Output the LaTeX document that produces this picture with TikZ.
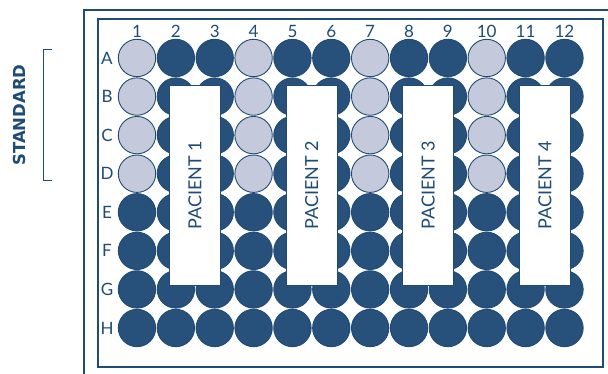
\documentclass[tikz,border=0pt]{standalone}
\usepackage{fontspec}
\setmainfont{Lato}
\newfontfamily\stdfont{DejaVu Sans}
\usepackage{xcolor}
\usetikzlibrary{positioning}

\definecolor{plateblue}{HTML}{1F4B74}
\definecolor{welldark}{HTML}{27517A}
\definecolor{welllight}{HTML}{C4CADB}

\begin{document}
\begin{tikzpicture}[x=1pt, y=-1pt,
  well/.style={circle, draw=plateblue, line width=0.9pt, fill=welldark,
    minimum size=37.4pt, inner sep=0pt},
  stdwell/.style={well, fill=welllight},
  patient/.style={rectangle, draw=plateblue, line width=0.9pt, fill=white,
    minimum width=51pt, minimum height=200pt, inner sep=0pt},
  lbl/.style={font=\fontsize{17}{17}\selectfont, text=plateblue, inner sep=0pt},
  ptxt/.style={font=\fontsize{18}{18}\selectfont, text=plateblue, rotate=90, inner sep=0pt},
  frame/.style={draw=plateblue, line width=1.3pt},
]
  \useasboundingbox (0,0) rectangle (608,374);

  % plate outline
  \coordinate (ob) at (84,380);
  \coordinate (ot) at (84,10);
  \coordinate (or) at (612,10);
  \draw[frame] (ob) -- (ot) -- (or);
  \coordinate (ia) at (98,19);
  \coordinate (ib) at (603,367);
  \draw[frame, line width=1.1pt] (ia) rectangle (ib);

  % column numbers and row letters
  \foreach \c in {1,...,12}
    \node[lbl] (col-\c) at ({137+38.86*(\c-1)},31) {\c};
  \foreach \r [count=\i] in {A,B,C,D,E,F,G,H}
    \node[lbl] (row-\r) at (107,{58+38.57*(\i-1)}) {\r};

  % wells
  \foreach \r [count=\i] in {A,B,C,D,E,F,G,H}
    \foreach \c in {1,...,12} {
      \pgfmathtruncatemacro{\isstd}{(\i<5) && (mod(\c-1,3)==0)}
      \ifnum\isstd=1
        \node[stdwell] (w-\r-\c) at ({137+38.86*(\c-1)},{58+38.57*(\i-1)}) {};
      \else
        \node[well] (w-\r-\c) at ({137+38.86*(\c-1)},{58+38.57*(\i-1)}) {};
      \fi
    }

  % patient strips
  \foreach \p in {1,...,4}
    \node[patient] (pac-\p) at ({195+116.6*(\p-1)},185) {};
  \node[ptxt] at (pac-1) {PACIENT 1};
  \node[ptxt] at (pac-2) {PACIENT 2};
  \node[ptxt] at (pac-3) {PACIENT 3};
  \node[ptxt] at (pac-4) {PACIENT 4};

  % standard bracket
  \coordinate (bt) at (52,50);
  \coordinate (bb) at (52,181);
  \draw[plateblue, line width=1pt] (bt) -- ++(-8.5,0) |- (bb);
  \node[font=\stdfont\fontsize{16.5}{16.5}\selectfont\bfseries, text=plateblue, rotate=90,
    inner sep=0pt] (std) at (19,115) {STANDARD};
\end{tikzpicture}
\end{document}
